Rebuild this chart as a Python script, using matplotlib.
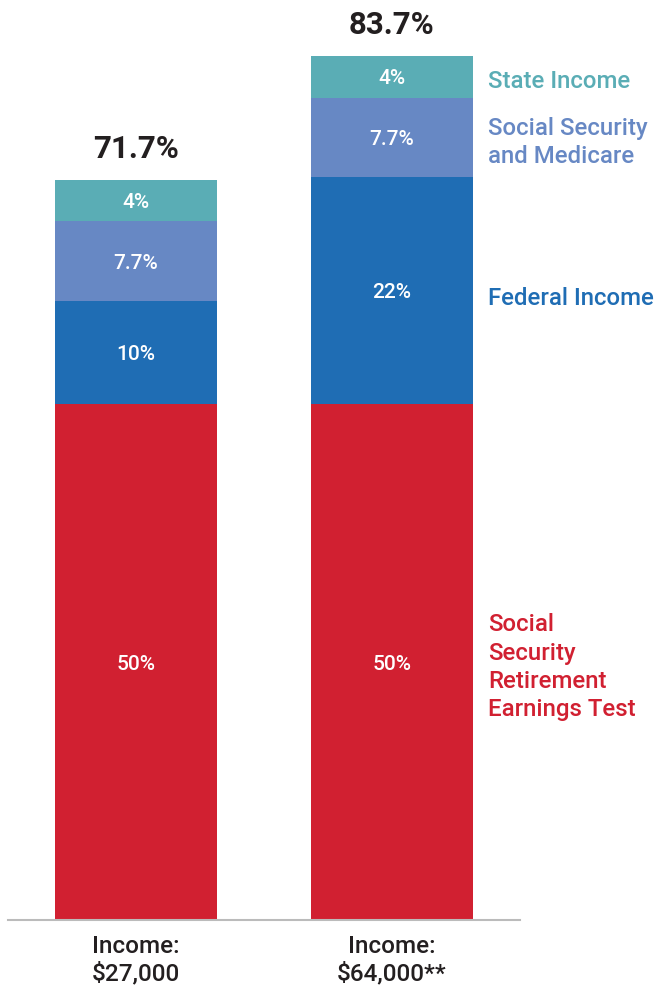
import numpy as np
import matplotlib
matplotlib.use("Agg")
import matplotlib.pyplot as plt

plt.rcParams['font.family'] = ['Roboto', 'DejaVu Sans']

# data
incomes = ["Income:\n$27,000", "Income:\n$64,000**"]
segments = ["Social\nSecurity\nRetirement\nEarnings Test", "Federal Income",
            "Social Security\nand Medicare", "State Income"]
values = [
    [50, 50],     # SS retirement earnings test
    [10, 22],     # federal income
    [7.7, 7.7],   # social security and medicare
    [4, 4],       # state income
]
value_labels = [["50%", "50%"], ["10%", "22%"], ["7.7%", "7.7%"], ["4%", "4%"]]
totals = ["71.7%", "83.7%"]
colors = ["#D12031", "#1F6DB4", "#6788C4", "#5AADB5"]

fig = plt.figure(figsize=(6.55, 9.88), dpi=100)
ax = fig.add_axes([8 / 655, 1 - 920 / 988, 512 / 655, 920 / 988])

x = np.arange(len(incomes))
bottom = np.zeros(len(incomes))
for i, seg in enumerate(values):
    vals = np.array(seg, dtype=float)
    ax.bar(x, vals, width=0.63, bottom=bottom, color=colors[i], linewidth=0)
    for j in range(len(x)):
        ax.text(x[j], bottom[j] + vals[j] / 2, value_labels[i][j], color="white",
                ha="center", va="center_baseline", fontsize=15, fontweight="medium")
    bottom += vals

# totals on top
for j in range(len(x)):
    ax.text(x[j], bottom[j] + 1.6, totals[j], ha="center", va="bottom",
            fontsize=22.5, fontweight="bold", color="#231F20")

# right-side labels, next to second bar
lab_x = 1.376
lab_kw = dict(ha="left", va="center_baseline", fontsize=17.3, fontweight="medium",
              clip_on=False)
ax.text(lab_x, 25.0, segments[0], color=colors[0], linespacing=1.3, **lab_kw)
ax.text(lab_x, 60.5, segments[1], color=colors[1], linespacing=1.25, **lab_kw)
ax.text(lab_x, 75.8, segments[2], color=colors[2], linespacing=1.25, **lab_kw)
ax.text(lab_x, 81.5, segments[3], color=colors[3], linespacing=1.25, **lab_kw)

ax.set_xlim(-0.5, 1.5)
ax.set_ylim(0, 89.15)
for s in ["top", "right", "left"]:
    ax.spines[s].set_visible(False)
ax.spines["bottom"].set_color("#BBBBBB")
ax.spines["bottom"].set_linewidth(1.5)
ax.set_yticks([])
ax.set_xticks(x)
ax.set_xticklabels(incomes, fontsize=17.5, fontweight="medium", color="#231F20",
                   linespacing=1.2)
ax.tick_params(axis="x", length=0, pad=11)

fig.savefig("out.png", dpi=100)
